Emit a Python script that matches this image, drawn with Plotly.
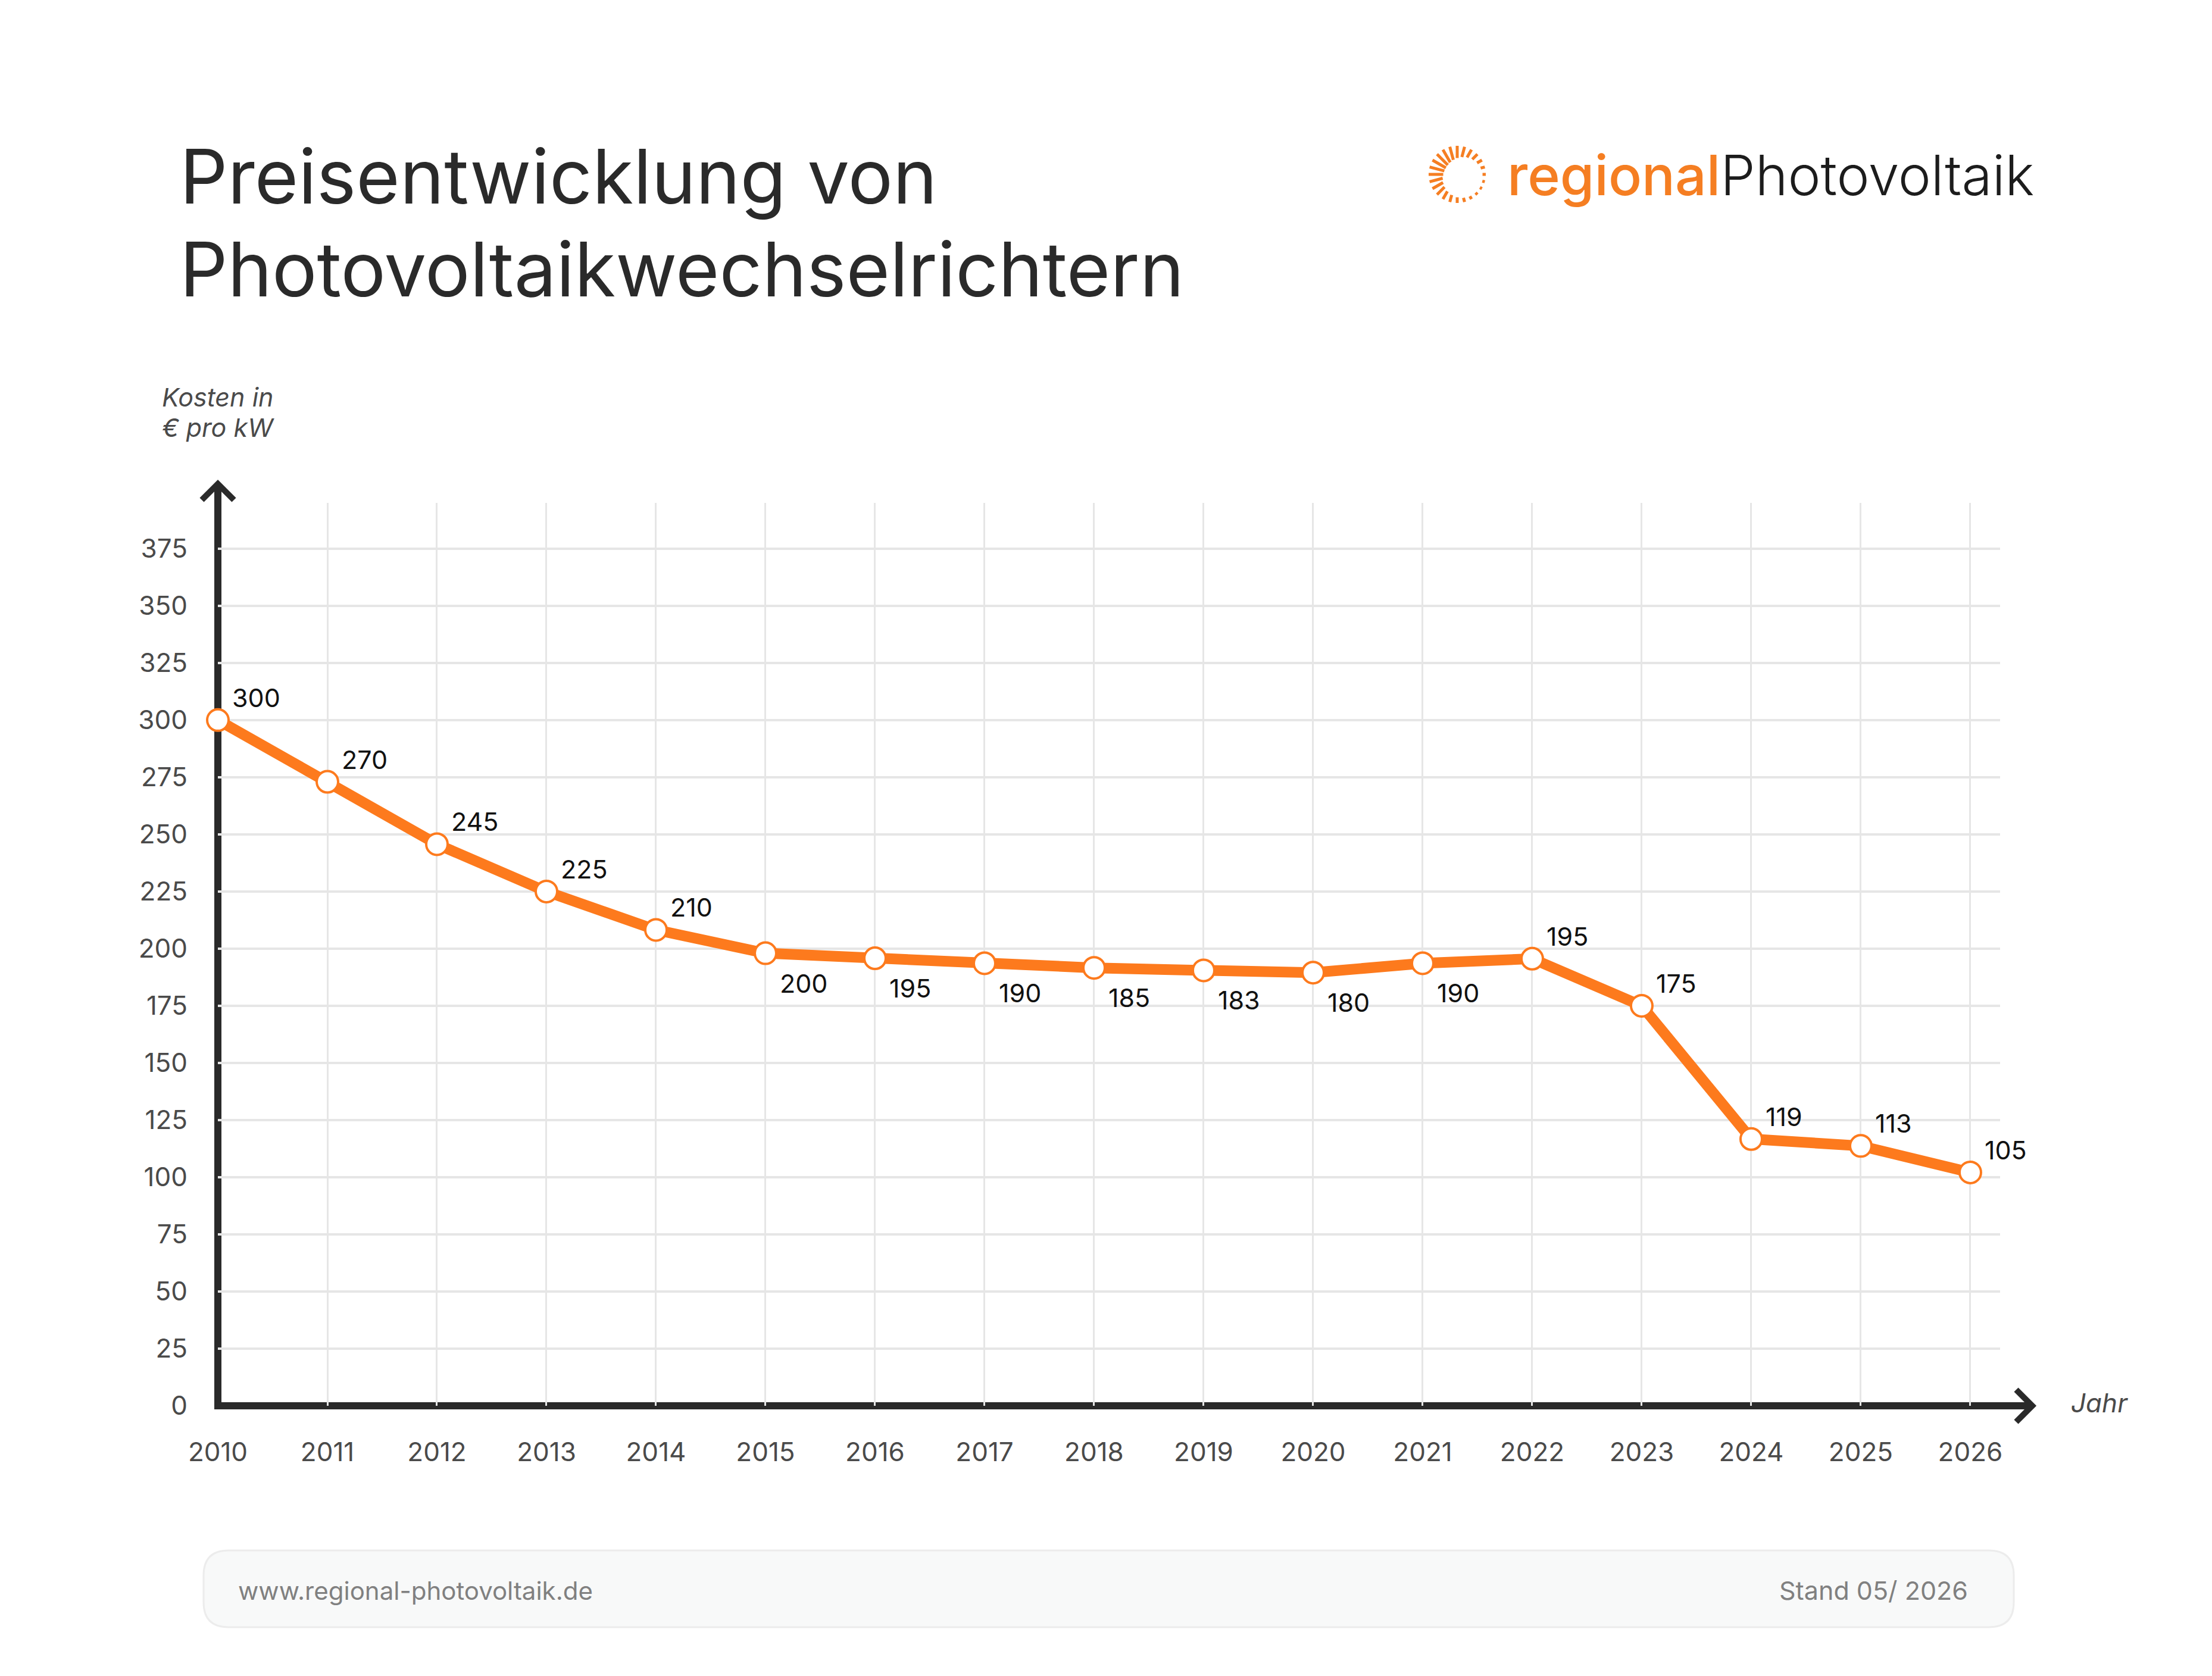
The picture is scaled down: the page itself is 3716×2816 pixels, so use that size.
import math
import plotly.graph_objects as go

# ---------------- data ----------------
years = list(range(2010, 2027))
plotted = [300, 273, 245.7, 225, 208.2, 198, 195.8, 193.6, 191.6, 190.5,
           189.5, 193.6, 195.6, 175, 116.7, 113.7, 102.1]
labels = ["300", "270", "245", "225", "210", "200", "195", "190", "185",
          "183", "180", "190", "195", "175", "119", "113", "105"]
label_side = ["top"] * 5 + ["bottom"] * 7 + ["top"] * 5
y_ticks = list(range(0, 376, 25))

title_lines = ["Preisentwicklung von", "Photovoltaikwechselrichtern"]
y_title = ["Kosten in", "€ pro kW"]
x_title = "Jahr"
footer_left = "www.regional-photovoltaik.de"
footer_right = "Stand 05/ 2026"

# ---------------- styling ----------------
ORANGE = "#FD7A1D"
LOGO_ORANGE = "#F57E22"
DARK = "#2a2a2a"
TICK = "#4a4a4a"
GRID = "#e6e6e6"
FONT = "Inter"

W, H = 3716, 2816
L, R, T, B = 366, 356, 845, 454
PW = W - L - R
PH = H - T - B


def px(x):
    return (x - L) / PW


def py(y):
    return (H - B - y) / PH


fig = go.Figure()
fig.add_trace(go.Scatter(
    x=years, y=plotted, mode="lines+markers",
    line=dict(color=ORANGE, width=18),
    marker=dict(size=36, color="white", line=dict(color=ORANGE, width=4)),
    cliponaxis=False, hoverinfo="skip", showlegend=False,
))

shapes = []
# axes with arrow heads
shapes.append(dict(type="path", xref="paper", yref="paper",
                   path=f"M {px(366)},{py(2368)} L {px(366)},{py(813)}",
                   line=dict(color=DARK, width=12), layer="between"))
shapes.append(dict(type="path", xref="paper", yref="paper",
                   path=f"M {px(339)},{py(840)} L {px(366)},{py(813)} L {px(393)},{py(840)}",
                   line=dict(color=DARK, width=10), layer="between"))
shapes.append(dict(type="path", xref="paper", yref="paper",
                   path=f"M {px(360)},{py(2362)} L {px(3414)},{py(2362)}",
                   line=dict(color=DARK, width=12), layer="between"))
shapes.append(dict(type="path", xref="paper", yref="paper",
                   path=f"M {px(3387)},{py(2335)} L {px(3414)},{py(2362)} L {px(3387)},{py(2389)}",
                   line=dict(color=DARK, width=10), layer="between"))

# footer rounded box
x0, x1, y0, y1, r = 342, 3383, 2605, 2734, 42
fp = (f"M {px(x0 + r)},{py(y0)} L {px(x1 - r)},{py(y0)} "
      f"Q {px(x1)},{py(y0)} {px(x1)},{py(y0 + r)} L {px(x1)},{py(y1 - r)} "
      f"Q {px(x1)},{py(y1)} {px(x1 - r)},{py(y1)} L {px(x0 + r)},{py(y1)} "
      f"Q {px(x0)},{py(y1)} {px(x0)},{py(y1 - r)} L {px(x0)},{py(y0 + r)} "
      f"Q {px(x0)},{py(y0)} {px(x0 + r)},{py(y0)} Z")
shapes.append(dict(type="path", xref="paper", yref="paper", path=fp,
                   fillcolor="#f8f9f9", line=dict(color="#ececec", width=3),
                   layer="below"))

# logo sun icon
cx, cy = 2448, 293
n_rays = 24
for i in range(n_rays):
    ang = math.radians(i * 360 / n_rays)
    s = (1 - math.cos(ang - math.radians(150))) / 2
    r_in = 22 + 22 * s
    r_out = 48
    xa, ya = cx + r_in * math.cos(ang), cy - r_in * math.sin(ang)
    xb, yb = cx + r_out * math.cos(ang), cy - r_out * math.sin(ang)
    shapes.append(dict(type="line", xref="paper", yref="paper",
                       x0=px(xa), y0=py(ya), x1=px(xb), y1=py(yb),
                       line=dict(color=LOGO_ORANGE, width=5)))

ann = []
# data labels
for yr, v, lab, side in zip(years, plotted, labels, label_side):
    ann.append(dict(x=yr, y=v, xref="x", yref="y", text=lab, showarrow=False,
                    xanchor="left", yanchor="middle", xshift=22,
                    yshift=38 if side == "top" else -50,
                    font=dict(family=FONT, size=43, color="#111111")))

# title
for line, yc in zip(title_lines, [296, 451.5]):
    ann.append(dict(x=px(300), y=py(yc), xref="paper", yref="paper", text=line,
                    showarrow=False, xanchor="left", yanchor="middle",
                    font=dict(family=FONT, size=126, color=DARK)))

# logo text
ann.append(dict(x=px(2530), y=py(294), xref="paper", yref="paper",
                text=(f"<span style='color:{LOGO_ORANGE};font-weight:500'>regional</span>"
                      f"<span style='color:#1c1c1c;font-weight:300'>Photovoltaik</span>"),
                showarrow=False, xanchor="left", yanchor="middle",
                font=dict(family=FONT, size=93, color="#1c1c1c")))

# axis titles
for line, yc in zip(y_title, [667, 718]):
    ann.append(dict(x=px(366), y=py(yc), xref="paper", yref="paper", text=line,
                    showarrow=False, xanchor="center", yanchor="middle",
                    font=dict(family=FONT, size=43, color=TICK, style="italic")))
ann.append(dict(x=px(3477), y=py(2357), xref="paper", yref="paper", text=x_title,
                showarrow=False, xanchor="left", yanchor="middle",
                font=dict(family=FONT, size=44, color=TICK, style="italic")))

# footer texts
ann.append(dict(x=px(398), y=py(2672), xref="paper", yref="paper", text=footer_left,
                showarrow=False, xanchor="left", yanchor="middle",
                font=dict(family=FONT, size=42, color="#808080")))
ann.append(dict(x=px(3308), y=py(2672), xref="paper", yref="paper", text=footer_right,
                showarrow=False, xanchor="right", yanchor="middle",
                font=dict(family=FONT, size=43, color="#808080")))

fig.update_layout(
    width=W, height=H,
    margin=dict(l=L, r=R, t=T, b=B, pad=0),
    paper_bgcolor="white", plot_bgcolor="white",
    shapes=shapes, annotations=ann, showlegend=False,
    xaxis=dict(range=[2010, 2026.272], tickvals=years, ticktext=[str(y) for y in years],
               showgrid=True, gridcolor=GRID, gridwidth=3, zeroline=False,
               showline=False, ticks="", ticklabelstandoff=48,
               tickfont=dict(family=FONT, size=44, color=TICK), fixedrange=True),
    yaxis=dict(range=[0, 395], tickvals=y_ticks, showgrid=True, gridcolor=GRID,
               gridwidth=4, zeroline=False, showline=False, ticks="",
               ticklabelstandoff=50,
               tickfont=dict(family=FONT, size=44, color=TICK), fixedrange=True),
)

fig.write_html("out.html")
